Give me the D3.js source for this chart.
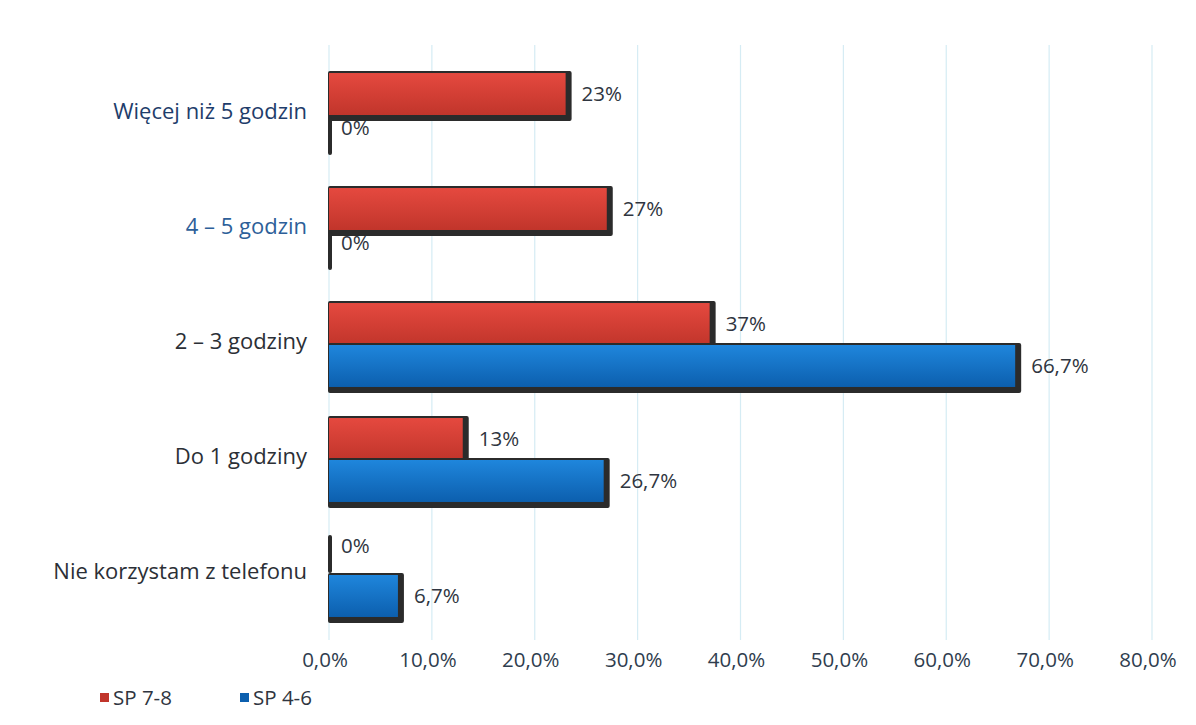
<!DOCTYPE html>
<html>
<head>
<meta charset="utf-8">
<script src="https://cdn.jsdelivr.net/npm/d3@7"></script>
<style>
  body { margin: 0; background: #fff; }
  svg { display: block; font-family: "Open Sans", "Noto Sans", sans-serif; }
</style>
</head>
<body>
<svg id="chart"></svg>
<script>
const categories = ["Więcej niż 5 godzin", "4 – 5 godzin", "2 – 3 godziny", "Do 1 godziny", "Nie korzystam z telefonu"];
const seriesNames = ["SP 7-8", "SP 4-6"];
const sp78 = [0.23, 0.27, 0.37, 0.13, 0];
const sp46 = [0, 0, 0.667, 0.267, 0.067];
const sp78Labels = ["23%", "27%", "37%", "13%", "0%"];
const sp46Labels = ["0%", "0%", "66,7%", "26,7%", "6,7%"];
const xTicks = [0, 0.1, 0.2, 0.3, 0.4, 0.5, 0.6, 0.7, 0.8];
const catColors = ["#1e3d6b", "#2d5f99", "#2b2f36", "#2b2f36", "#2b2f36"];

const width = 1196, height = 725;
const svg = d3.select("#chart").attr("width", width).attr("height", height);

const x = d3.scaleLinear().domain([0, 0.8]).range([329, 1152]);
const y = d3.scaleBand().domain(categories).range([57.5, 632.5])
  .paddingInner(0.27).paddingOuter(0.135);
const ySub = d3.scaleBand().domain(seriesNames).range([0, y.bandwidth()]);
const colors = { "SP 7-8": ["#e5493f", "#c1352b"], "SP 4-6": ["#1f86dc", "#0c5fae"] };

// gradients
const defs = svg.append("defs");
seriesNames.forEach(function(s, i) {
  const g = defs.append("linearGradient").attr("id", "grad" + i)
    .attr("x1", 0).attr("y1", 0).attr("x2", 0).attr("y2", 1);
  g.append("stop").attr("offset", "0%").attr("stop-color", colors[s][0]);
  g.append("stop").attr("offset", "100%").attr("stop-color", colors[s][1]);
});

// gridlines
svg.append("g").selectAll("line")
  .data(xTicks)
  .join("line")
    .attr("x1", d => x(d)).attr("x2", d => x(d))
    .attr("y1", 45).attr("y2", 640)
    .attr("stroke", "#d5ecf4")
    .attr("stroke-width", 1.2);

// x tick labels
svg.append("g").selectAll("text")
  .data(xTicks)
  .join("text")
    .attr("x", d => x(d) - 4)
    .attr("y", 667)
    .attr("text-anchor", "middle")
    .attr("fill", "#2f3d4e")
    .style("font-size", "20.5px")
    .text(d => d3.format(".1f")(d * 100).replace(".", ",") + "%");

// category labels
svg.append("g").selectAll("text")
  .data(categories)
  .join("text")
    .attr("x", 307)
    .attr("y", d => y(d) + y.bandwidth() / 2 - 4)
    .attr("dy", "0.35em")
    .attr("text-anchor", "end")
    .attr("fill", (d, i) => catColors[i])
    .style("font-size", "22px")
    .text(d => d);

// bars
const rows = [];
categories.forEach(function(c, i) {
  rows.push({ cat: c, s: "SP 7-8", si: 0, v: sp78[i], label: sp78Labels[i] });
  rows.push({ cat: c, s: "SP 4-6", si: 1, v: sp46[i], label: sp46Labels[i] });
});

const bars = svg.append("g").selectAll("g")
  .data(rows)
  .join("g")
    .attr("transform", d => "translate(0," + (y(d.cat) + ySub(d.s)) + ")");

const bh = ySub.bandwidth();

// shadow
bars.append("rect")
  .attr("x", x(0) - 1)
  .attr("y", d => d.v > 0 ? -2 : 2)
  .attr("width", d => d.v > 0 ? x(d.v) - x(0) + 7 : 4)
  .attr("height", d => d.v > 0 ? bh + 8 : bh - 4)
  .attr("rx", 2)
  .attr("fill", "#2b2b2b");

// fill
bars.filter(d => d.v > 0).append("rect")
  .attr("x", x(0))
  .attr("y", 0)
  .attr("width", d => x(d.v) - x(0))
  .attr("height", bh)
  .attr("fill", d => "url(#grad" + d.si + ")");

// value labels
bars.append("text")
  .attr("x", d => x(d.v) + (d.v > 0 ? 16 : 12))
  .attr("y", d => d.v > 0 ? bh / 2 : bh / 2 - 8)
  .attr("dy", "0.35em")
  .attr("fill", "#2f3540")
  .style("font-size", "20.5px")
  .text(d => d.label);

// legend
const legend = svg.append("g").selectAll("g")
  .data(seriesNames)
  .join("g")
    .attr("transform", (d, i) => "translate(" + (100 + i * 140) + ",693)");
legend.append("rect")
  .attr("width", 9).attr("height", 9)
  .attr("fill", (d, i) => colors[d][1]);
legend.append("text")
  .attr("x", 13).attr("y", 5)
  .attr("dy", "0.35em")
  .attr("fill", "#2f3540")
  .style("font-size", "20.5px")
  .text(d => d);
</script>
</body>
</html>
